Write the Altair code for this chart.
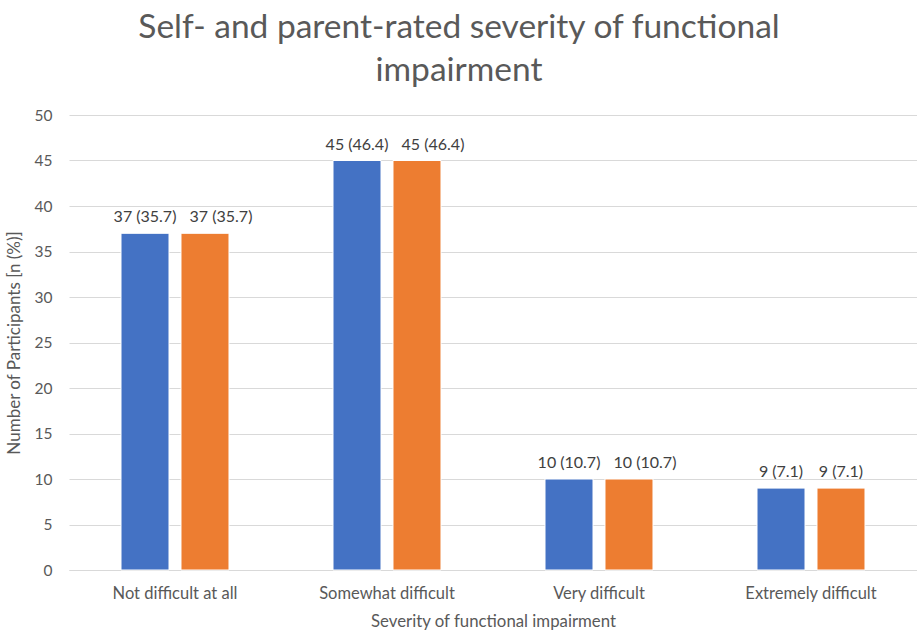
import altair as alt
import pandas as pd

categories = ["Not difficult at all", "Somewhat difficult", "Very difficult", "Extremely difficult"]
series = ["Self-rated", "Parent-rated"]
self_counts = [37, 45, 10, 9]
parent_counts = [37, 45, 10, 9]
self_pct = [35.7, 46.4, 10.7, 7.1]
parent_pct = [35.7, 46.4, 10.7, 7.1]
colors = ["#4472C4", "#ED7D31"]

rows = []
for i, c in enumerate(categories):
    rows.append({"cat": c, "series": series[0], "n": self_counts[i],
                 "label": f"{self_counts[i]} ({self_pct[i]})"})
    rows.append({"cat": c, "series": series[1], "n": parent_counts[i],
                 "label": f"{parent_counts[i]} ({parent_pct[i]})"})
df = pd.DataFrame(rows)

FONT = "Lato"
x = alt.X("cat:N", sort=categories, scale=alt.Scale(paddingInner=0, paddingOuter=0),
          axis=alt.Axis(title="Severity of functional impairment", labelAngle=0,
                        ticks=False, domainColor="#d9d9d9", labelPadding=15,
                        labelFontSize=16.5, labelColor="#595959", labelFont=FONT,
                        titleFontSize=16.8, titleColor="#595959", titleFont=FONT,
                        titleFontWeight="normal", titlePadding=12))
xoff = alt.XOffset("series:N", sort=series,
                   scale=alt.Scale(paddingInner=0.2, paddingOuter=0.867))

base = alt.Chart(df).encode(x=x, xOffset=xoff)

bars = base.mark_bar(stroke="white", strokeWidth=1).encode(
    y=alt.Y("n:Q", scale=alt.Scale(domain=[0, 50]),
            axis=alt.Axis(title="Number of Participants [n (%)]", values=list(range(0, 51, 5)),
                          ticks=False, domain=False, gridColor="#d9d9d9", labelPadding=17,
                          labelFontSize=15.5, labelColor="#595959", labelFont=FONT,
                          titleFontSize=17, titleColor="#595959", titleFont=FONT,
                          titleFontWeight="normal", titlePadding=11)),
    color=alt.Color("series:N", sort=series, scale=alt.Scale(domain=series, range=colors), legend=None),
)

text_kw = dict(baseline="bottom", dy=-8, fontSize=16, color="#404040", font=FONT)
lab_enc = dict(y="n:Q", text="label:N")

labels_first = base.mark_text(**text_kw).encode(**lab_enc).transform_filter(
    alt.datum.series == series[0])
labels_second_short = base.mark_text(**text_kw).encode(**lab_enc).transform_filter(
    (alt.datum.series == series[1]) & (alt.expr.length(alt.datum.label) <= 7))
labels_second_long = base.mark_text(dx=16, **text_kw).encode(**lab_enc).transform_filter(
    (alt.datum.series == series[1]) & (alt.expr.length(alt.datum.label) > 7))

chart = (bars + labels_first + labels_second_short + labels_second_long).properties(
    width=848, height=455,
    title=alt.TitleParams(["Self- and parent-rated severity of functional", "impairment"],
                          fontSize=33.5, font=FONT, color="#595959", fontWeight="normal",
                          lineHeight=43, anchor="middle", dx=-34, offset=20),
    autosize=alt.AutoSizeParams(type="none"),
    padding={"left": 69, "top": 115, "right": 0, "bottom": 62},
).configure_view(stroke=None)

chart.save("out.html", embed_options={"renderer": "svg", "actions": False})
